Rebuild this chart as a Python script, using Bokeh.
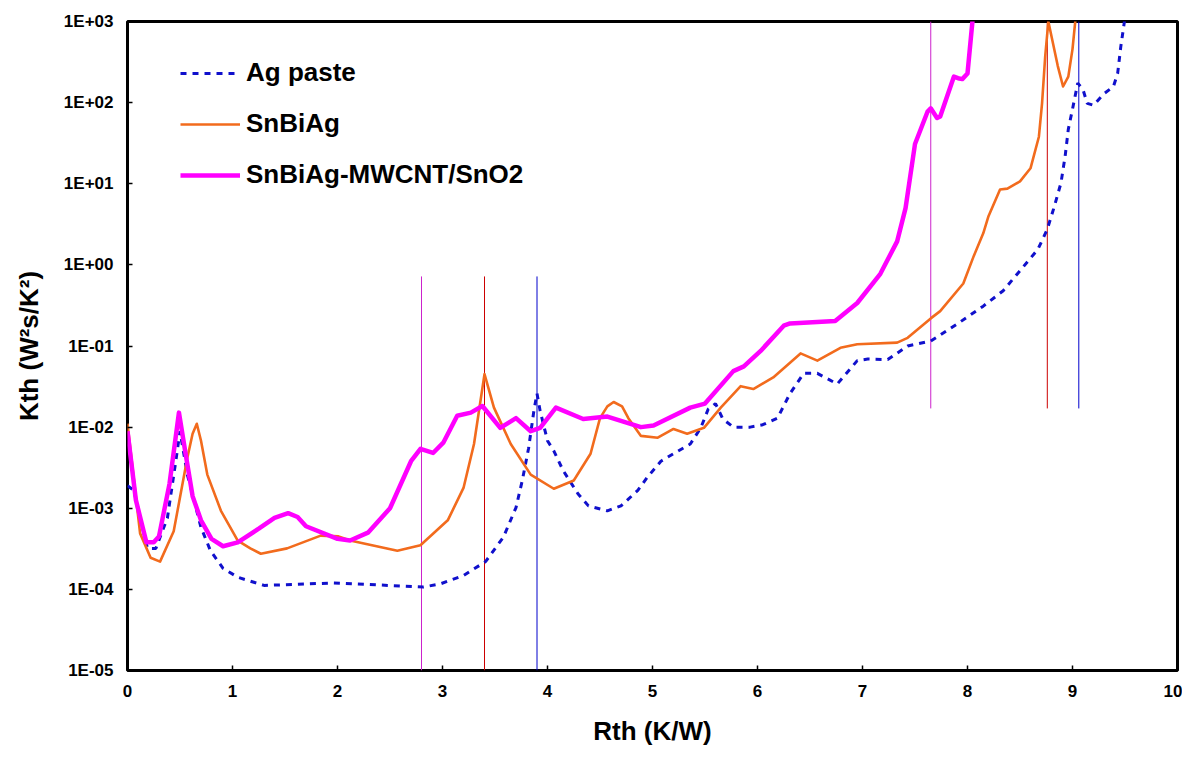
from bokeh.plotting import figure
from bokeh.models import Range1d, FixedTicker, CustomJSTickFormatter, Legend, LegendItem
from bokeh.embed import file_html
from bokeh.resources import INLINE

# ---- data ----
ag_x = [0.00, 0.06, 0.19, 0.27, 0.38, 0.46, 0.50, 0.57, 0.70, 0.79, 0.91, 1.05, 1.30, 1.58, 1.96,
        2.48, 2.82, 2.98, 3.20, 3.41, 3.58, 3.70, 3.76, 3.82, 3.87, 3.90, 3.93, 4.00, 4.06, 4.15,
        4.29, 4.39, 4.57, 4.70, 4.86, 4.95, 5.08, 5.20, 5.36, 5.46, 5.53, 5.60, 5.67, 5.77, 5.93,
        6.05, 6.19, 6.31, 6.44, 6.57, 6.76, 6.95, 7.05, 7.24, 7.43, 7.65, 7.91, 8.15, 8.34, 8.48,
        8.67, 8.76, 8.82, 8.89, 8.93, 8.96, 9.00, 9.05, 9.10, 9.14, 9.20, 9.30, 9.39, 9.43, 9.46, 9.50]
ag_y = [1.9e-3, 1.66e-3, 3.2e-4, 3.2e-4, 7.6e-4, 3.8e-3, 8.9e-3, 2.6e-3, 5.8e-4, 3.0e-4, 1.82e-4,
        1.41e-4, 1.12e-4, 1.15e-4, 1.2e-4, 1.12e-4, 1.07e-4, 1.17e-4, 1.48e-4, 2.2e-4, 4.4e-4,
        1.02e-3, 2.2e-3, 5.5e-3, 1.58e-2, 2.6e-2, 1.58e-2, 6.8e-3, 5.1e-3, 2.9e-3, 1.51e-3, 1.07e-3,
        9.3e-4, 1.07e-3, 1.66e-3, 2.4e-3, 3.8e-3, 4.7e-3, 6.2e-3, 9.8e-3, 1.66e-2, 1.95e-2, 1.26e-2,
        1.0e-2, 1.0e-2, 1.07e-2, 1.29e-2, 2.6e-2, 4.6e-2, 4.6e-2, 3.4e-2, 6.6e-2, 6.9e-2, 6.8e-2,
        0.10, 0.115, 0.19, 0.31, 0.48, 0.79, 1.55, 2.75, 4.9, 10.2, 21.9, 46.8, 83.0, 174.0, 145.0,
        98.0, 93.0, 129.0, 158.0, 229.0, 490.0, 1120.0]

sn_x = [0.00, 0.12, 0.22, 0.31, 0.44, 0.57, 0.62, 0.66, 0.70, 0.76, 0.89, 1.05, 1.17, 1.27, 1.52,
        1.84, 2.01, 2.12, 2.57, 2.79, 3.05, 3.20, 3.30, 3.40, 3.49, 3.65, 3.84, 4.06, 4.25, 4.41,
        4.50, 4.57, 4.63, 4.71, 4.77, 4.89, 5.05, 5.20, 5.33, 5.49, 5.65, 5.84, 5.96, 6.15, 6.41,
        6.57, 6.79, 6.95, 7.33, 7.43, 7.65, 7.74, 7.96, 8.06, 8.15, 8.20, 8.31, 8.38, 8.50, 8.60,
        8.68, 8.71, 8.74, 8.77, 8.86, 8.91, 8.96, 9.00, 9.03]
sn_y = [1.1e-2, 4.9e-4, 2.45e-4, 2.2e-4, 5.2e-4, 4.2e-3, 8.3e-3, 1.1e-2, 6.8e-3, 2.6e-3, 9.3e-4,
        4.0e-4, 3.2e-4, 2.75e-4, 3.2e-4, 4.6e-4, 4.5e-4, 4.0e-4, 3.0e-4, 3.5e-4, 7.1e-4, 1.78e-3,
        6.2e-3, 4.5e-2, 1.74e-2, 6.2e-3, 2.6e-3, 1.74e-3, 2.2e-3, 4.7e-3, 1.29e-2, 1.8e-2, 2.04e-2,
        1.8e-2, 1.29e-2, 7.8e-3, 7.4e-3, 9.5e-3, 8.3e-3, 9.8e-3, 1.74e-2, 3.2e-2, 2.95e-2, 4.1e-2,
        8.1e-2, 6.6e-2, 9.5e-2, 0.105, 0.11, 0.126, 0.219, 0.269, 0.59, 1.29, 2.45, 3.98, 8.5, 8.7,
        10.7, 15.5, 38.0, 98.0, 372.0, 1000.0, 282.0, 158.0, 209.0, 457.0, 1120.0]

cnt_x = [0.00, 0.08, 0.18, 0.25, 0.30, 0.40, 0.49, 0.55, 0.62, 0.70, 0.80, 0.91, 1.05, 1.25, 1.40,
         1.53, 1.62, 1.70, 2.00, 2.12, 2.29, 2.50, 2.70, 2.79, 2.91, 3.01, 3.14, 3.27, 3.38, 3.55,
         3.70, 3.84, 3.93, 4.08, 4.34, 4.57, 4.89, 5.01, 5.36, 5.50, 5.77, 5.87, 6.03, 6.25, 6.31,
         6.74, 6.95, 7.17, 7.33, 7.41, 7.50, 7.62, 7.65, 7.71, 7.74, 7.87, 7.91, 7.95, 8.00, 8.05]
cnt_y = [8.9e-3, 1.26e-3, 3.8e-4, 3.8e-4, 4.5e-4, 2.0e-3, 1.51e-2, 5.0e-3, 1.41e-3, 7.1e-4, 4.2e-4,
         3.4e-4, 3.8e-4, 5.6e-4, 7.6e-4, 8.7e-4, 7.8e-4, 6.0e-4, 4.2e-4, 4.0e-4, 5.0e-4, 1.0e-3,
         3.8e-3, 5.4e-3, 4.8e-3, 6.5e-3, 1.38e-2, 1.51e-2, 1.82e-2, 9.8e-3, 1.29e-2, 8.9e-3, 9.8e-3,
         1.74e-2, 1.26e-2, 1.35e-2, 1.0e-2, 1.05e-2, 1.74e-2, 1.95e-2, 4.9e-2, 5.6e-2, 8.7e-2, 0.178,
         0.19, 0.204, 0.339, 0.776, 1.95, 5.0, 30.9, 77.6, 85.0, 64.6, 67.6, 209.0, 200.0, 195.0,
         229.0, 1100.0]

# vertical marker lines
vline_x = [2.80, 3.40, 3.90, 7.65, 8.76, 9.06]
vline_y0 = [1e-5, 1e-5, 1e-5, 0.017, 0.017, 0.017]
vline_y1 = [0.72, 0.72, 0.72, 1e3, 1e3, 1e3]
vline_color = ["#CC22CC", "#CC0000", "#0000CC", "#CC22CC", "#CC0000", "#0000CC"]

x_ticks = [0, 1, 2, 3, 4, 5, 6, 7, 8, 9, 10]
y_ticks = [1e-5, 1e-4, 1e-3, 1e-2, 1e-1, 1e0, 1e1, 1e2, 1e3]

series_names = ["Ag paste", "SnBiAg", "SnBiAg-MWCNT/SnO2"]

FONT = "Liberation Sans"

p = figure(width=1182, height=751, output_backend="svg", toolbar_location=None,
           y_axis_type="log", x_range=Range1d(0, 10), y_range=Range1d(1e-5, 1e3),
           min_border_left=127, min_border_right=5, min_border_top=21, min_border_bottom=81)
p.background_fill_color = "white"
p.border_fill_color = "white"
p.xgrid.visible = False
p.ygrid.visible = False
p.outline_line_color = "black"
p.outline_line_width = 3

p.segment(x0=vline_x, y0=vline_y0, x1=vline_x, y1=vline_y1, line_color=vline_color, line_width=1)

r_ag = p.line(ag_x, ag_y, line_color="#1010CC", line_width=3, line_dash="6 6")
r_sn = p.line(sn_x, sn_y, line_color="#F26B1D", line_width=2.6, line_join="round")
r_cnt = p.line(cnt_x, cnt_y, line_color="#FF00FF", line_width=4.5, line_join="round")

# axes
p.xaxis.ticker = FixedTicker(ticks=x_ticks, minor_ticks=[])
p.yaxis.ticker = FixedTicker(ticks=y_ticks, minor_ticks=[])
p.yaxis.formatter = CustomJSTickFormatter(code="""
const e = Math.round(Math.log10(tick));
const s = e < 0 ? '-' : '+';
const a = Math.abs(e);
return '1E' + s + (a < 10 ? '0' : '') + a;
""")
for ax in (p.xaxis[0], p.yaxis[0]):
    ax.axis_line_color = None
    ax.major_tick_in = 5
    ax.major_tick_out = 0
    ax.major_tick_line_color = "black"
    ax.major_tick_line_width = 1.5
    ax.minor_tick_line_color = None
    ax.major_label_text_font = FONT
    ax.major_label_text_font_style = "bold"
    ax.major_label_text_font_size = "17px"
    ax.major_label_text_color = "black"
    ax.axis_label_text_font = FONT
    ax.axis_label_text_font_style = "bold"
    ax.axis_label_text_font_size = "26px"
    ax.axis_label_text_color = "black"

p.xaxis.axis_label = "Rth (K/W)"
p.yaxis.axis_label = "Kth (W\u00b2s/K\u00b2)"
p.xaxis.major_label_standoff = 14
p.yaxis.major_label_standoff = 14
p.xaxis.axis_label_standoff = 16
p.yaxis.axis_label_standoff = 17

legend = Legend(items=[LegendItem(label=series_names[0], renderers=[r_ag]),
                       LegendItem(label=series_names[1], renderers=[r_sn]),
                       LegendItem(label=series_names[2], renderers=[r_cnt])],
                location=(53, 480))
legend.border_line_color = None
legend.background_fill_alpha = 0
legend.padding = 0
legend.margin = 0
legend.spacing = 20
legend.glyph_width = 60
legend.glyph_height = 30
legend.label_height = 30
legend.label_standoff = 6
legend.label_text_font = FONT
legend.label_text_font_style = "bold"
legend.label_text_font_size = "26px"
legend.label_text_color = "black"
p.add_layout(legend, "center")

open("out.html", "w").write(file_html(p, INLINE))
